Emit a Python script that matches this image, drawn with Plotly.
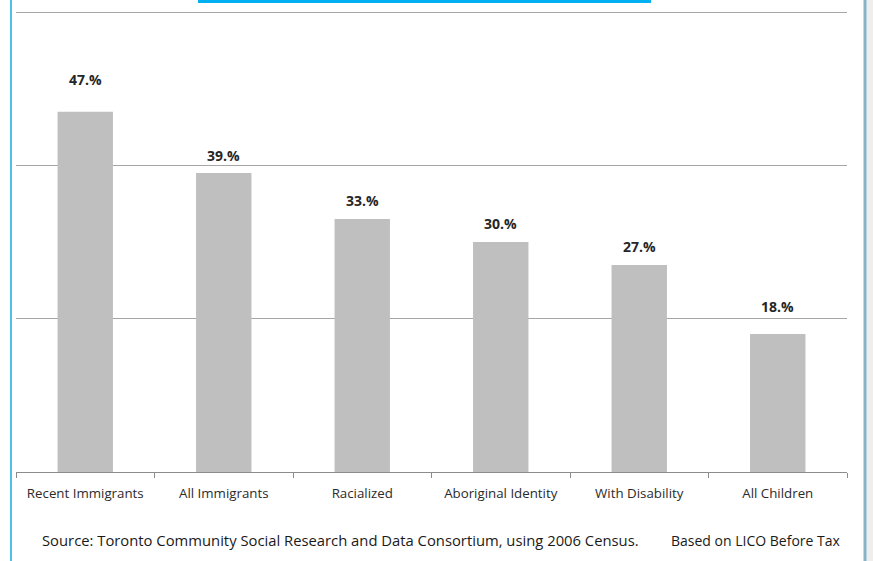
import plotly.graph_objects as go

categories = ["Recent Immigrants", "All Immigrants", "Racialized",
              "Aboriginal Identity", "With Disability", "All Children"]
values = [47, 39, 33, 30, 27, 18]
value_labels = ["47.%", "39.%", "33.%", "30.%", "27.%", "18.%"]
label_shift = [31, 16, 17, 17, 17, 26]

W, H = 873, 561
L, R, T, B = 16, 847, 11, 472

def px(x):
    return (x - L) / (R - L)

def py(y):
    return (B - y) / (B - T)

fig = go.Figure()
fig.add_trace(go.Bar(x=categories, y=values, marker_color="#BFBFBF",
                     marker_line_width=0, width=0.4, hoverinfo="skip"))

for c, v, t, s in zip(categories, values, value_labels, label_shift):
    fig.add_annotation(x=c, y=v, text="<b>" + t + "</b>", showarrow=False,
                       yanchor="bottom", yshift=s - 10,
                       font=dict(family="Open Sans", size=14, color="#262626"))

fig.add_annotation(xref="paper", yref="paper", x=px(40), y=py(540),
                   xanchor="left", yanchor="middle", showarrow=False,
                   text="Source: Toronto Community Social Research and Data Consortium, using 2006 Census.",
                   font=dict(family="Open Sans", size=14.8, color="#1a1a1a"))
fig.add_annotation(xref="paper", yref="paper", x=px(843), y=py(540),
                   xanchor="right", yanchor="middle", showarrow=False,
                   text="Based on LICO Before Tax",
                   font=dict(family="Open Sans", size=14, color="#1a1a1a"))

shapes = [
    dict(type="line", xref="paper", yref="paper", x0=px(11), x1=px(11),
         y0=py(0), y1=py(561), line=dict(color="#4EC0E6", width=2)),
    dict(type="rect", xref="paper", yref="paper", x0=px(866), x1=px(873),
         y0=py(0), y1=py(561), line=dict(width=0), fillcolor="#EEEEEE"),
    dict(type="line", xref="paper", yref="paper", x0=px(865), x1=px(865),
         y0=py(0), y1=py(561), line=dict(color="#86B3C8", width=3)),
    dict(type="rect", xref="paper", yref="paper", x0=px(198), x1=px(651),
         y0=py(0), y1=py(3), line=dict(width=0), fillcolor="#00B0F0"),
]

fig.update_layout(
    width=W, height=H,
    margin=dict(l=L, r=W - R, t=T, b=H - B),
    paper_bgcolor="white", plot_bgcolor="white",
    showlegend=False, bargap=0.6,
    shapes=shapes,
    xaxis=dict(showline=True, linecolor="#8C8C8C", linewidth=1,
               ticks="outside", tickson="boundaries", ticklen=5,
               tickcolor="#8C8C8C", ticklabelstandoff=9,
               tickfont=dict(family="Open Sans", size=13.3, color="#2b2b2b"),
               showgrid=False, fixedrange=True),
    yaxis=dict(range=[0, 60.15], tickvals=[20, 40, 60], showticklabels=False,
               showgrid=True, gridcolor="#A6A6A6", gridwidth=1,
               zeroline=False, fixedrange=True),
)

fig.write_html("out.html", config={"displayModeBar": False},
               post_script="document.body.style.margin='0';")
